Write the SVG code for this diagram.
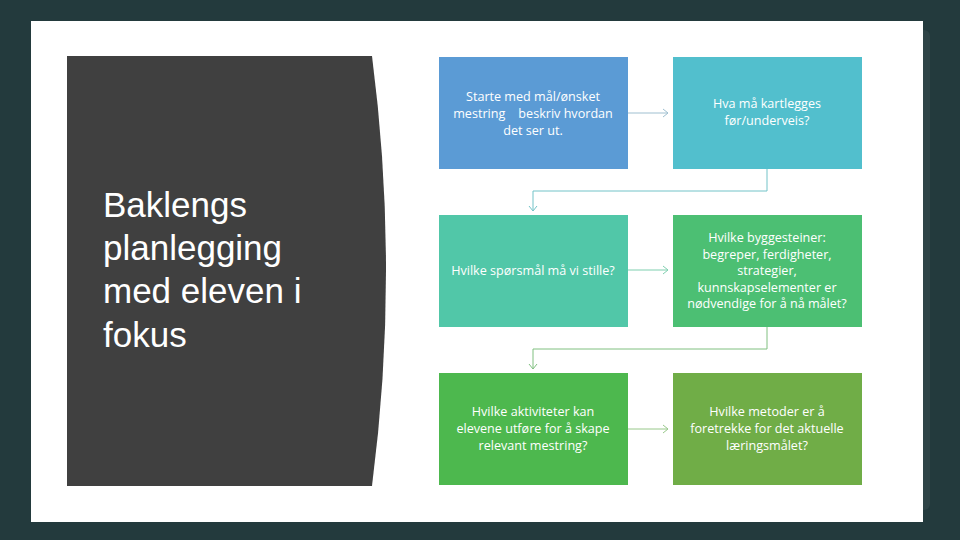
<svg xmlns="http://www.w3.org/2000/svg" width="960" height="540" viewBox="0 0 960 540">
<defs>
<style>
.bt{font-family:"Open Sans","Liberation Sans",sans-serif;font-size:12.6px;fill:#ffffff;text-anchor:middle}
.tt{font-family:"Liberation Sans","Open Sans",sans-serif;font-size:35px;fill:#ffffff}
.c{fill:none;stroke-width:1}
</style>
<marker id="a1" markerWidth="8" markerHeight="10" refX="6" refY="5" orient="auto" markerUnits="userSpaceOnUse"><path d="M1,1 L6,5 L1,9" fill="none" stroke="#9fbfd0" stroke-width="1"/></marker>
<marker id="a2" markerWidth="8" markerHeight="10" refX="6" refY="5" orient="auto" markerUnits="userSpaceOnUse"><path d="M1,1 L6,5 L1,9" fill="none" stroke="#73c3c8" stroke-width="1"/></marker>
<marker id="a3" markerWidth="8" markerHeight="10" refX="6" refY="5" orient="auto" markerUnits="userSpaceOnUse"><path d="M1,1 L6,5 L1,9" fill="none" stroke="#7fcfaf" stroke-width="1"/></marker>
<marker id="a4" markerWidth="8" markerHeight="10" refX="6" refY="5" orient="auto" markerUnits="userSpaceOnUse"><path d="M1,1 L6,5 L1,9" fill="none" stroke="#80c080" stroke-width="1"/></marker>
<marker id="a5" markerWidth="8" markerHeight="10" refX="6" refY="5" orient="auto" markerUnits="userSpaceOnUse"><path d="M1,1 L6,5 L1,9" fill="none" stroke="#98c88a" stroke-width="1"/></marker>
</defs>
<rect x="0" y="0" width="960" height="540" fill="#233a3d"/>
<rect x="40" y="30" width="890" height="480" rx="6" fill="#2f4447"/>
<rect x="31" y="21" width="892" height="501" fill="#ffffff"/>
<g id="title">
<path d="M67,56 L372,56 Q400,271 372,486 L67,486 Z" fill="#404040"/>
<text class="tt" x="103" y="217">Baklengs</text>
<text class="tt" x="103" y="260">planlegging</text>
<text class="tt" x="103" y="303">med eleven i</text>
<text class="tt" x="103" y="347">fokus</text>
</g>
<g id="connectors">
<path class="c" stroke="#9fbfd0" d="M628,113 H668" marker-end="url(#a1)"/>
<path class="c" stroke="#73c3c8" d="M767,169 V191 H533 V211" marker-end="url(#a2)"/>
<path class="c" stroke="#7fcfaf" d="M628,270 H668" marker-end="url(#a3)"/>
<path class="c" stroke="#80c080" d="M767,327 V349 H533 V369" marker-end="url(#a4)"/>
<path class="c" stroke="#98c88a" d="M628,429 H668" marker-end="url(#a5)"/>
</g>
<g id="n1">
<rect x="439" y="57" width="189" height="112" fill="#5b9bd5"/>
<text class="bt" x="533" y="101">Starte med mål/ønsket</text>
<text class="bt" x="533" y="118">mestring &#160;&#160; beskriv hvordan</text>
<text class="bt" x="533" y="135">det ser ut.</text>
</g>
<g id="n2">
<rect x="673" y="57" width="189" height="112" fill="#52bfcd"/>
<text class="bt" x="767" y="108">Hva må kartlegges</text>
<text class="bt" x="767" y="125">før/underveis?</text>
</g>
<g id="n3">
<rect x="439" y="215" width="189" height="112" fill="#51c7a8"/>
<text class="bt" x="533" y="275">Hvilke spørsmål må vi stille?</text>
</g>
<g id="n4">
<rect x="673" y="215" width="189" height="112" fill="#4cbf73"/>
<text class="bt" x="767" y="242">Hvilke byggesteiner:</text>
<text class="bt" x="767" y="258.5">begreper, ferdigheter,</text>
<text class="bt" x="767" y="275">strategier,</text>
<text class="bt" x="767" y="291.5">kunnskapselementer er</text>
<text class="bt" x="767" y="308">nødvendige for å nå målet?</text>
</g>
<g id="n5">
<rect x="439" y="373" width="189" height="112" fill="#4db84e"/>
<text class="bt" x="533" y="416">Hvilke aktiviteter kan</text>
<text class="bt" x="533" y="433">elevene utføre for å skape</text>
<text class="bt" x="533" y="450">relevant mestring?</text>
</g>
<g id="n6">
<rect x="673" y="373" width="189" height="112" fill="#70ad47"/>
<text class="bt" x="767" y="416">Hvilke metoder er å</text>
<text class="bt" x="767" y="433">foretrekke for det aktuelle</text>
<text class="bt" x="767" y="450">læringsmålet?</text>
</g>
</svg>
